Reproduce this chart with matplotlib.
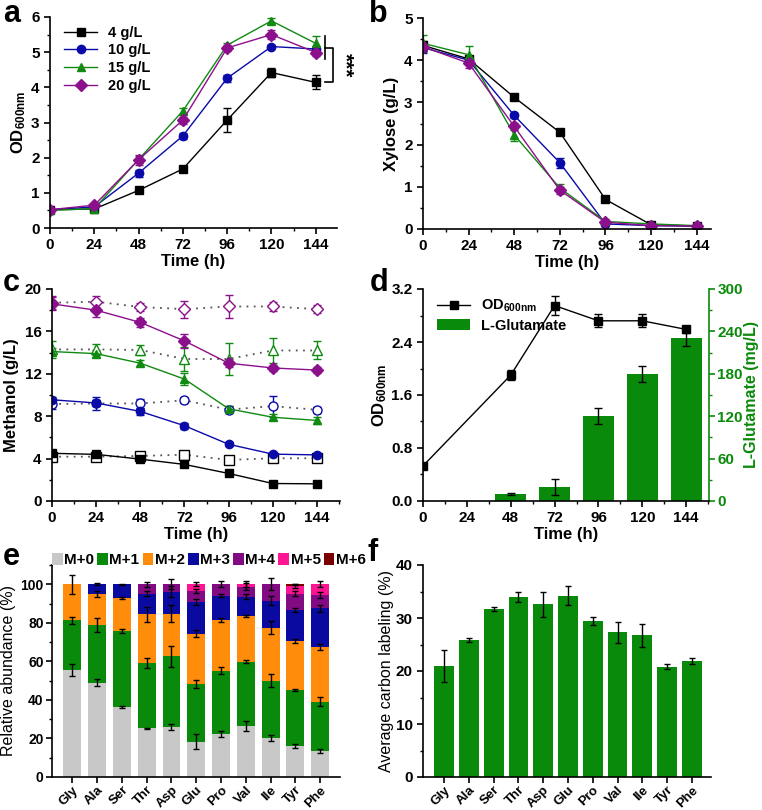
import numpy as np
import matplotlib
matplotlib.use("Agg")
import matplotlib.pyplot as plt
from matplotlib.patches import Patch
from matplotlib.lines import Line2D
from matplotlib.ticker import MultipleLocator, AutoMinorLocator, FormatStrFormatter

plt.rcParams['font.family'] = ['Liberation Sans', 'DejaVu Sans']
plt.rcParams['font.weight'] = 'bold'
plt.rcParams['axes.labelweight'] = 'bold'
plt.rcParams['mathtext.fontset'] = 'custom'
plt.rcParams['mathtext.rm'] = 'Liberation Sans:bold'
plt.rcParams['mathtext.it'] = 'Liberation Sans:bold'
plt.rcParams['mathtext.bf'] = 'Liberation Sans:bold'
plt.rcParams['mathtext.default'] = 'bf'
plt.rcParams['font.size'] = 11

# ---- data ----
time = [0, 24, 48, 72, 96, 120, 144]
conc_labels = ['4 g/L', '10 g/L', '15 g/L', '20 g/L']
colors = ['black', '#0a0aa8', '#108a10', '#8c0f8c']
markers = ['s', 'o', '^', 'D']

# a: OD600
od_4 = [0.52, 0.54, 1.07, 1.68, 3.07, 4.42, 4.14]
od_10 = [0.52, 0.60, 1.56, 2.62, 4.26, 5.16, 5.09]
od_15 = [0.50, 0.55, 1.95, 3.33, 5.20, 5.89, 5.25]
od_20 = [0.52, 0.65, 1.94, 3.07, 5.12, 5.50, 4.99]
od_4_err = [0.03, 0.03, 0.05, 0.05, 0.35, 0.12, 0.20]
od_10_err = [0.03, 0.03, 0.10, 0.08, 0.10, 0.05, 0.05]
od_15_err = [0.03, 0.03, 0.10, 0.08, 0.05, 0.07, 0.20]
od_20_err = [0.03, 0.03, 0.15, 0.10, 0.08, 0.12, 0.10]

# b: xylose
xyl_4 = [4.35, 4.03, 3.12, 2.29, 0.70, 0.10, 0.07]
xyl_10 = [4.30, 4.00, 2.69, 1.57, 0.12, 0.08, 0.07]
xyl_15 = [4.40, 4.13, 2.23, 0.97, 0.18, 0.12, 0.08]
xyl_20 = [4.32, 3.93, 2.43, 0.92, 0.16, 0.08, 0.07]
xyl_4_err = [0.10, 0.05, 0.05, 0.05, 0.05, 0.03, 0.03]
xyl_10_err = [0.12, 0.10, 0.05, 0.12, 0.05, 0.03, 0.03]
xyl_15_err = [0.20, 0.20, 0.15, 0.10, 0.05, 0.03, 0.03]
xyl_20_err = [0.10, 0.12, 0.08, 0.08, 0.05, 0.03, 0.03]

# c: methanol (filled = culture, open = control)
meoh_4 = [4.50, 4.40, 3.95, 3.45, 2.60, 1.65, 1.62]
meoh_10 = [9.55, 9.25, 8.45, 7.10, 5.35, 4.42, 4.35]
meoh_15 = [14.1, 13.9, 13.0, 11.5, 8.70, 7.90, 7.60]
meoh_20 = [18.6, 18.0, 16.85, 15.1, 13.0, 12.55, 12.35]
meoh_4_ctrl = [4.18, 4.18, 4.25, 4.37, 3.87, 4.03, 4.03]
meoh_10_ctrl = [9.15, 9.20, 9.20, 9.50, 8.62, 8.95, 8.60]
meoh_15_ctrl = [14.3, 14.3, 14.25, 13.4, 13.4, 14.2, 14.2]
meoh_20_ctrl = [18.7, 18.8, 18.3, 18.1, 18.35, 18.35, 18.1]
meoh_4_err = [0.2, 0.2, 0.2, 0.15, 0.15, 0.15, 0.1]
meoh_10_err = [0.3, 0.3, 0.3, 0.3, 0.2, 0.2, 0.2]
meoh_15_err = [0.3, 0.3, 0.3, 0.6, 0.3, 0.3, 0.3]
meoh_20_err = [0.6, 0.6, 0.4, 0.7, 0.4, 0.3, 0.3]
meoh_4_ctrl_err = [0.2, 0.2, 0.2, 0.2, 0.2, 0.2, 0.2]
meoh_10_ctrl_err = [0.5, 0.6, 0.4, 0.3, 0.3, 1.0, 0.3]
meoh_15_ctrl_err = [0.8, 0.5, 0.5, 1.1, 1.5, 1.15, 0.85]
meoh_20_ctrl_err = [0.6, 0.5, 0.4, 0.8, 1.1, 0.4, 0.4]

# d: OD and glutamate
d_time = [0, 48, 72, 96, 120, 144]
d_od = [0.53, 1.90, 2.95, 2.72, 2.72, 2.59]
d_od_err = [0.02, 0.07, 0.14, 0.10, 0.10, 0.05]
glu_time = [48, 72, 96, 120, 144]
glu = [10, 20, 120, 180, 230]
glu_err = [1, 11, 11, 11, 10]

# e / f: amino acids
amino = ['Gly', 'Ala', 'Ser', 'Thr', 'Asp', 'Glu', 'Pro', 'Val', 'Ile', 'Tyr', 'Phe']
iso_labels = ['M+0', 'M+1', 'M+2', 'M+3', 'M+4', 'M+5', 'M+6']
iso_colors = ['#c8c8c8', '#0a8a0a', '#ff8c0a', '#0a0aa0', '#820a82', '#ff1493', '#7a0000']
m0 = [55.5, 49.0, 36.5, 25.3, 25.8, 18.3, 22.3, 26.5, 20.4, 16.3, 13.7]
m1 = [25.8, 29.9, 39.3, 33.7, 36.8, 29.8, 32.9, 33.4, 29.6, 28.9, 25.4]
m2 = [18.7, 15.9, 16.9, 25.4, 22.2, 26.3, 26.3, 23.7, 27.5, 25.4, 28.4]
m3 = [0.0, 5.2, 7.3, 10.8, 11.4, 16.3, 12.5, 10.0, 14.0, 16.1, 20.0]
m4 = [0.0, 0.0, 0.0, 4.8, 3.8, 5.8, 6.0, 5.2, 8.5, 8.5, 7.0]
m5 = [0.0, 0.0, 0.0, 0.0, 0.0, 3.5, 0.0, 1.2, 0.0, 4.1, 5.5]
m6 = [0.0, 0.0, 0.0, 0.0, 0.0, 0.0, 0.0, 0.0, 0.0, 0.7, 0.0]
m0_err = [3.0, 2.0, 0.5, 0.3, 1.5, 4.0, 1.5, 2.5, 1.5, 1.0, 1.0]
m1_err = [1.8, 3.5, 1.0, 2.5, 5.5, 2.0, 2.0, 1.0, 3.5, 0.5, 2.5]
m2_err = [5.0, 1.5, 0.5, 4.0, 4.5, 2.0, 1.0, 0.5, 3.5, 1.2, 1.5]
m3_err = [0.0, 0.5, 0.3, 1.5, 3.0, 1.5, 0.8, 1.5, 2.5, 1.2, 2.0]
m4_err = [0.0, 0.0, 0.0, 1.2, 2.5, 1.0, 1.5, 2.0, 3.0, 1.2, 1.5]
m5_err = [0.0, 0.0, 0.0, 0.0, 0.0, 1.0, 0.0, 1.5, 0.0, 1.0, 1.5]
m6_err = [0.0, 0.0, 0.0, 0.0, 0.0, 0.0, 0.0, 0.0, 0.0, 0.3, 0.0]

avg_label = [21.0, 25.8, 31.7, 34.0, 32.6, 34.2, 29.4, 27.3, 26.7, 20.8, 21.9]
avg_label_err = [3.0, 0.4, 0.3, 1.0, 2.4, 1.8, 0.8, 2.0, 2.1, 0.5, 0.5]


def style(ax):
    for s in ['top', 'right']:
        ax.spines[s].set_visible(False)
    for s in ['left', 'bottom']:
        ax.spines[s].set_linewidth(1.2)
    ax.tick_params(which='major', direction='out', length=4, width=1.2, labelsize=11)
    ax.tick_params(which='minor', direction='out', length=2.5, width=1)


def time_axis(ax, right=155):
    ax.set_xlim(0, right)
    ax.set_xticks(time)
    ax.xaxis.set_minor_locator(MultipleLocator(12))
    ax.set_xlabel('Time (h)', fontsize=12, labelpad=1)


W, H = 762, 810
fig = plt.figure(figsize=(W / 100, H / 100), dpi=100)


def add_axes(left, top, right, bottom):
    return fig.add_axes([left / W, 1 - bottom / H, (right - left) / W, (bottom - top) / H])


err_kw = dict(capsize=3, elinewidth=1, capthick=1, lw=1, ms=6)

# ---------------- a ----------------
ax = add_axes(50, 17, 337, 228)
style(ax)
series = [(od_4, od_4_err), (od_10, od_10_err), (od_15, od_15_err), (od_20, od_20_err)]
for (y, e), c, m in zip(series, colors, markers):
    ax.errorbar(time, y, yerr=e, color=c, marker=m, **err_kw)
ax.set_ylim(0, 6)
ax.yaxis.set_minor_locator(AutoMinorLocator(2))
time_axis(ax, 155.5)
ax.set_ylabel('OD$_{600nm}$', fontsize=12, labelpad=2)
leg_h = [Line2D([], [], color=c, marker=m, lw=1, ms=6) for c, m in zip(colors, markers)]
ax.legend(leg_h, conc_labels, loc='upper left', frameon=False, fontsize=10.5,
          handlelength=2.2, labelspacing=0.25, borderaxespad=0.2, bbox_to_anchor=(0.02, 1.0))
# significance bracket
top3 = np.mean([od_10[-1], od_15[-1], od_20[-1]])
x0, x1 = time[-1] + 5, time[-1] + 9.5
ax.plot([x0, x0], [top3 + 0.35, top3 - 0.3], color='black', lw=1.2, clip_on=False)
ax.plot([x0, x1, x1, x0], [top3, top3, od_4[-1], od_4[-1]], color='black', lw=1.2,
        clip_on=False)
ax.text(x1 + 1.2, (top3 + od_4[-1]) / 2, '***', rotation=270, ha='left', va='center',
        fontsize=15, clip_on=False)

# ---------------- b ----------------
ax = add_axes(423, 18, 711, 229)
style(ax)
series = [(xyl_4, xyl_4_err), (xyl_10, xyl_10_err), (xyl_15, xyl_15_err), (xyl_20, xyl_20_err)]
for (y, e), c, m in zip(series, colors, markers):
    ax.errorbar(time, y, yerr=e, color=c, marker=m, **err_kw)
ax.set_ylim(0, 5)
ax.yaxis.set_minor_locator(AutoMinorLocator(2))
time_axis(ax, 151.5)
ax.set_ylabel('Xylose (g/L)', fontsize=12, labelpad=4)

# ---------------- c ----------------
ax = add_axes(52, 289, 340, 501)
style(ax)
ctrl = [(meoh_4_ctrl, meoh_4_ctrl_err), (meoh_10_ctrl, meoh_10_ctrl_err),
        (meoh_15_ctrl, meoh_15_ctrl_err), (meoh_20_ctrl, meoh_20_ctrl_err)]
cult = [(meoh_4, meoh_4_err), (meoh_10, meoh_10_err),
        (meoh_15, meoh_15_err), (meoh_20, meoh_20_err)]
for (y, e), c, m in zip(ctrl, colors, markers):
    ax.plot(time, y, ls=(0, (1, 3)), color='#555555', lw=1.3)
    ax.errorbar(time, y, yerr=e, color=c, marker=m, ls='none', mfc='white', mew=1,
                capsize=3, elinewidth=1, capthick=1, ms=6.5)
for (y, e), c, m in zip(cult, colors, markers):
    ax.errorbar(time, y, yerr=e, color=c, marker=m, **err_kw)
ax.set_ylim(0, 20)
ax.set_yticks([0, 4, 8, 12, 16, 20])
ax.yaxis.set_minor_locator(AutoMinorLocator(2))
time_axis(ax, 156.5)
ax.set_ylabel('Methanol (g/L)', fontsize=12, labelpad=4)

# ---------------- d ----------------
ax = add_axes(423, 289, 709, 501)
style(ax)
ax2 = ax.twinx()
ax2.bar(glu_time, glu, width=17, color='#0a8a0a', zorder=1)
ax2.errorbar(glu_time, glu, yerr=glu_err, ls='none', color='black', capsize=3,
             elinewidth=1, capthick=1)
ax2.set_ylim(0, 300)
ax2.set_yticks([0, 60, 120, 180, 240, 300])
ax2.yaxis.set_minor_locator(AutoMinorLocator(2))
for s in ['top', 'left', 'bottom']:
    ax2.spines[s].set_visible(False)
ax2.spines['right'].set_color('#0a8a0a')
ax2.spines['right'].set_linewidth(1.2)
ax2.tick_params(which='major', direction='out', length=4, width=1.2, labelsize=11,
                colors='#0a8a0a', pad=2)
ax2.tick_params(which='minor', direction='out', length=2.5, width=1, colors='#0a8a0a')
ax2.set_ylabel('L-Glutamate (mg/L)', fontsize=11.5, color='#0a8a0a', labelpad=1)
ax.set_zorder(ax2.get_zorder() + 1)
ax.patch.set_visible(False)
ax.errorbar(d_time, d_od, yerr=d_od_err, color='black', marker='s', **err_kw)
ax.set_ylim(0, 3.2)
ax.set_yticks([0, 0.8, 1.6, 2.4, 3.2])
ax.yaxis.set_major_formatter(FormatStrFormatter('%.1f'))
ax.yaxis.set_minor_locator(AutoMinorLocator(2))
time_axis(ax, 156.5)
ax2.set_xlim(0, 156.5)
ax.set_ylabel('OD$_{600nm}$', fontsize=12, labelpad=2)
d_handles = [Line2D([], [], color='black', marker='s', lw=1, ms=6),
             Patch(facecolor='#0a8a0a')]
ax.legend(d_handles, ['OD$_{600nm}$', 'L-Glutamate'], loc='upper left', frameon=False,
          fontsize=10.5, handlelength=2.2, labelspacing=0.3, borderaxespad=0.2,
          bbox_to_anchor=(0.02, 1.0))

# ---------------- e ----------------
ax = add_axes(52, 565, 340, 777)
style(ax)
x = np.arange(1, len(amino) + 1)
segs = [m0, m1, m2, m3, m4, m5, m6]
errs = [m0_err, m1_err, m2_err, m3_err, m4_err, m5_err, m6_err]
bottom = np.zeros(len(amino))
handles = []
for seg, err, c, lab in zip(segs, errs, iso_colors, iso_labels):
    seg = np.array(seg)
    ax.bar(x, seg, bottom=bottom, width=0.72, color=c, zorder=1)
    top = bottom + seg
    mask = seg > 0
    ax.errorbar(x[mask], top[mask], yerr=np.array(err)[mask], ls='none', color='black',
                capsize=2.5, elinewidth=1, capthick=1, zorder=3)
    bottom = top
    handles.append(Patch(facecolor=c, label=lab))
ax.set_xlim(0.18, 11.8)
ax.set_ylim(0, 110)
ax.set_yticks([0, 20, 40, 60, 80, 100])
ax.yaxis.set_minor_locator(AutoMinorLocator(2))
ax.tick_params(axis='y', labelsize=10, pad=2)
ax.set_xticks(x)
ax.set_xticklabels(amino, rotation=45, ha='right', rotation_mode='anchor', fontsize=9.5)
ax.tick_params(axis='x', pad=1)
ax.set_ylabel('Relative abundance (%)', fontsize=11.5, fontweight='normal', labelpad=3)
ax.legend(handles=handles, loc='lower left', bbox_to_anchor=(0.0, 0.99), ncol=7,
          frameon=False, fontsize=11, handlelength=0.7, handleheight=0.9,
          handletextpad=0.1, columnspacing=0.2, borderaxespad=0, borderpad=0)

# ---------------- f ----------------
ax = add_axes(423, 565, 711, 777)
style(ax)
xf = np.arange(len(amino))
ax.bar(xf, avg_label, width=0.8, color='#0a8a0a', zorder=1)
ax.errorbar(xf, avg_label, yerr=avg_label_err, ls='none', color='black', capsize=2.5,
            elinewidth=1, capthick=1, zorder=3)
ax.set_xlim(-0.85, 10.77)
ax.set_ylim(0, 40)
ax.set_yticks([0, 10, 20, 30, 40])
ax.yaxis.set_minor_locator(AutoMinorLocator(2))
ax.set_xticks(xf)
ax.set_xticklabels(amino, rotation=45, ha='right', rotation_mode='anchor', fontsize=9.5)
ax.tick_params(axis='x', pad=1)
ax.set_ylabel('Average carbon labeling (%)', fontsize=11.5, fontweight='normal', labelpad=1)

# panel letters
for letter, px, py in [('a', 3, 14), ('b', 369, 14), ('c', 3, 283), ('d', 370, 283),
                       ('e', 3, 557), ('f', 368, 553)]:
    fig.text(px / W, 1 - py / H, letter, fontsize=22, fontweight='bold', ha='left', va='center')

fig.savefig('out.png', dpi=100)
